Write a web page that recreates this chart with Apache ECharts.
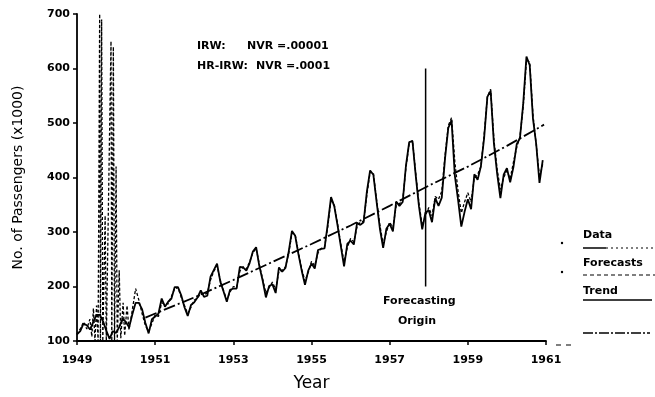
<!DOCTYPE html>
<html>
<head>
<meta charset="utf-8">
<script src="https://cdn.jsdelivr.net/npm/echarts@6/dist/echarts.min.js"></script>
<style>
  html, body { margin: 0; padding: 0; background: #fff; }
  #chart { width: 655px; height: 397px; }
</style>
</head>
<body>
<div id="chart"></div>
<script>
// Monthly airline passengers (thousands), Jan 1949 .. Dec 1960
const firstYear = 1949;
const passengers = [
  112, 118, 132, 129, 121, 135, 148, 148, 136, 119, 104, 118,
  115, 126, 141, 135, 125, 149, 170, 170, 158, 133, 114, 140,
  145, 150, 178, 163, 172, 178, 199, 199, 184, 162, 146, 166,
  171, 180, 193, 181, 183, 218, 230, 242, 209, 191, 172, 194,
  196, 196, 236, 235, 229, 243, 264, 272, 237, 211, 180, 201,
  204, 188, 235, 227, 234, 264, 302, 293, 259, 229, 203, 229,
  242, 233, 267, 269, 270, 315, 364, 347, 312, 274, 237, 278,
  284, 277, 317, 313, 318, 374, 413, 405, 355, 306, 271, 306,
  315, 301, 356, 348, 355, 422, 465, 467, 404, 347, 305, 336,
  340, 318, 362, 348, 363, 435, 491, 505, 404, 359, 310, 337,
  360, 342, 406, 396, 420, 472, 548, 559, 463, 407, 362, 405,
  417, 391, 419, 461, 472, 535, 622, 606, 508, 461, 390, 432
];

// Start-up of the recursive estimates: unstable values before convergence
const startupYears = [
  1949.00, 1949.08, 1949.17, 1949.25, 1949.33, 1949.38, 1949.42, 1949.46,
  1949.50, 1949.54, 1949.58, 1949.60, 1949.63, 1949.66, 1949.72, 1949.75,
  1949.87, 1949.89, 1949.93, 1949.96, 1950.00, 1950.03, 1950.08, 1950.12,
  1950.18, 1950.22, 1950.28, 1950.33, 1950.40
];
const startupValues = [
  112, 122, 135, 122, 140, 108, 160, 100,
  165, 100, 700, 100, 690, 100, 330, 100,
  650, 100, 640, 100, 420, 100, 230, 105,
  170, 110, 165, 120, 150
];

// One-step estimates / forecasts, monthly from Jul 1950 to Dec 1960
const forecastStart = 1950 + 6 / 12;
const forecasts = [
  196, 175, 150, 128, 118, 132,
  148, 145, 170, 168, 168, 182, 196, 198, 180, 165, 150, 162,
  175, 178, 188, 185, 188, 212, 228, 238, 212, 192, 176, 190,
  200, 198, 228, 236, 232, 245, 262, 270, 240, 214, 188, 198,
  208, 195, 228, 230, 236, 260, 298, 295, 262, 232, 210, 226,
  246, 238, 262, 270, 272, 310, 360, 350, 315, 278, 245, 272,
  288, 282, 310, 318, 320, 368, 410, 408, 358, 312, 278, 300,
  318, 308, 348, 352, 358, 418, 462, 468, 408, 352, 312, 330,
  345, 330, 365, 360, 375, 440, 495, 510, 430, 375, 335, 355,
  372, 355, 400, 405, 420, 478, 548, 562, 470, 415, 378, 400,
  412, 398, 428, 455, 475, 530, 615, 612, 515, 460, 400, 425
];

// Estimated trend
const trendYears  = [1950.75, 1952, 1953, 1954, 1955, 1956, 1957, 1958, 1959, 1960, 1960.95];
const trendValues = [143, 180, 212, 245, 278, 312, 348, 385, 420, 458, 497];

// Forecasting origin marker
const originYear = 1957.92;
const originRange = [200, 600];

const monthYear = (start, i) => start + i / 12;
const dataPts = passengers.map((v, i) => [monthYear(firstYear, i), v]);
const startupPts = startupYears.map((y, i) => [y, startupValues[i]]);
const forecastPts = startupPts.concat(forecasts.map((v, i) => [monthYear(forecastStart, i), v]));
const trendPts = trendYears.map((y, i) => [y, trendValues[i]]);
const originPts = originRange.map(v => [originYear, v]);

const FONT = 'DejaVu Sans';
const chart = echarts.init(document.getElementById('chart'), null, { renderer: 'canvas' });

chart.setOption({
  animation: false,
  backgroundColor: '#fff',
  grid: { left: 77, right: 109, top: 14, bottom: 53, containLabel: false },
  xAxis: {
    type: 'value', min: 1949, max: 1961, interval: 2,
    name: 'Year', nameLocation: 'middle', nameGap: 34,
    nameTextStyle: { fontFamily: FONT, fontSize: 17, color: '#000' },
    axisLine: { lineStyle: { color: '#000', width: 1.8 } },
    axisTick: { show: true, length: 4, lineStyle: { color: '#000', width: 1.5 } },
    axisLabel: {
      fontFamily: FONT, fontWeight: 'bold', fontSize: 11, color: '#000', margin: 14,
      formatter: v => String(Math.round(v))
    },
    splitLine: { show: false }
  },
  yAxis: {
    type: 'value', min: 100, max: 700, interval: 100,
    name: 'No. of Passengers (x1000)', nameLocation: 'middle', nameGap: 52,
    nameTextStyle: { fontFamily: FONT, fontSize: 14, color: '#000' },
    axisLine: { show: true, lineStyle: { color: '#000', width: 1.8 } },
    axisTick: { show: true, length: 4, lineStyle: { color: '#000', width: 1.5 } },
    axisLabel: { fontFamily: FONT, fontWeight: 'bold', fontSize: 11, color: '#000', margin: 7 },
    splitLine: { show: false }
  },
  series: [
    {
      name: 'Data', type: 'line', data: dataPts, symbol: 'none', clip: true,
      lineStyle: { color: '#000', width: 1.8 }, z: 3
    },
    {
      name: 'Forecasts', type: 'line', data: forecastPts, symbol: 'none', clip: true,
      lineStyle: { color: '#000', width: 1.3, type: [3, 2] }, z: 4
    },
    {
      name: 'Trend', type: 'line', data: trendPts, symbol: 'none', clip: true,
      lineStyle: { color: '#000', width: 1.8, type: [12, 3, 2, 3] }, z: 2
    },
    {
      name: 'Origin', type: 'line', data: originPts, symbol: 'none', clip: true,
      lineStyle: { color: '#000', width: 1.5 }, z: 2
    }
  ],
  graphic: [
    { type: 'text', left: 197, top: 41, style: { text: 'IRW:', font: 'bold 11px ' + FONT, fill: '#000' } },
    { type: 'text', left: 247, top: 41, style: { text: 'NVR =.00001', font: 'bold 11px ' + FONT, fill: '#000' } },
    { type: 'text', left: 197, top: 61, style: { text: 'HR-IRW:', font: 'bold 11px ' + FONT, fill: '#000' } },
    { type: 'text', left: 256, top: 61, style: { text: 'NVR =.0001', font: 'bold 11px ' + FONT, fill: '#000' } },

    { type: 'text', left: 383, top: 296, style: { text: 'Forecasting', font: 'bold 11px ' + FONT, fill: '#000' } },
    { type: 'text', left: 398, top: 316, style: { text: 'Origin', font: 'bold 11px ' + FONT, fill: '#000' } },

    // key
    { type: 'circle', shape: { cx: 562, cy: 243, r: 1.2 }, style: { fill: '#000' } },
    { type: 'text', left: 583, top: 230, style: { text: 'Data', font: 'bold 11px ' + FONT, fill: '#000' } },
    { type: 'line', shape: { x1: 583, y1: 248, x2: 606, y2: 248 }, style: { stroke: '#000', lineWidth: 1.5 } },
    { type: 'line', shape: { x1: 606, y1: 248, x2: 655, y2: 248 }, style: { stroke: '#000', lineWidth: 1.2, lineDash: [2, 3] } },

    { type: 'circle', shape: { cx: 562, cy: 272, r: 1.2 }, style: { fill: '#000' } },
    { type: 'text', left: 583, top: 258, style: { text: 'Forecasts', font: 'bold 11px ' + FONT, fill: '#000' } },
    { type: 'line', shape: { x1: 583, y1: 275, x2: 655, y2: 275 }, style: { stroke: '#000', lineWidth: 1.2, lineDash: [4, 3] } },

    { type: 'text', left: 583, top: 286, style: { text: 'Trend', font: 'bold 11px ' + FONT, fill: '#000' } },
    { type: 'line', shape: { x1: 583, y1: 300, x2: 652, y2: 300 }, style: { stroke: '#000', lineWidth: 1.4 } },

    { type: 'line', shape: { x1: 583, y1: 333, x2: 650, y2: 333 }, style: { stroke: '#000', lineWidth: 1.3, lineDash: [10, 2, 2, 2] } },
    { type: 'line', shape: { x1: 556, y1: 345, x2: 576, y2: 345 }, style: { stroke: '#000', lineWidth: 1, lineDash: [5, 5] } }
  ]
});
</script>
</body>
</html>
